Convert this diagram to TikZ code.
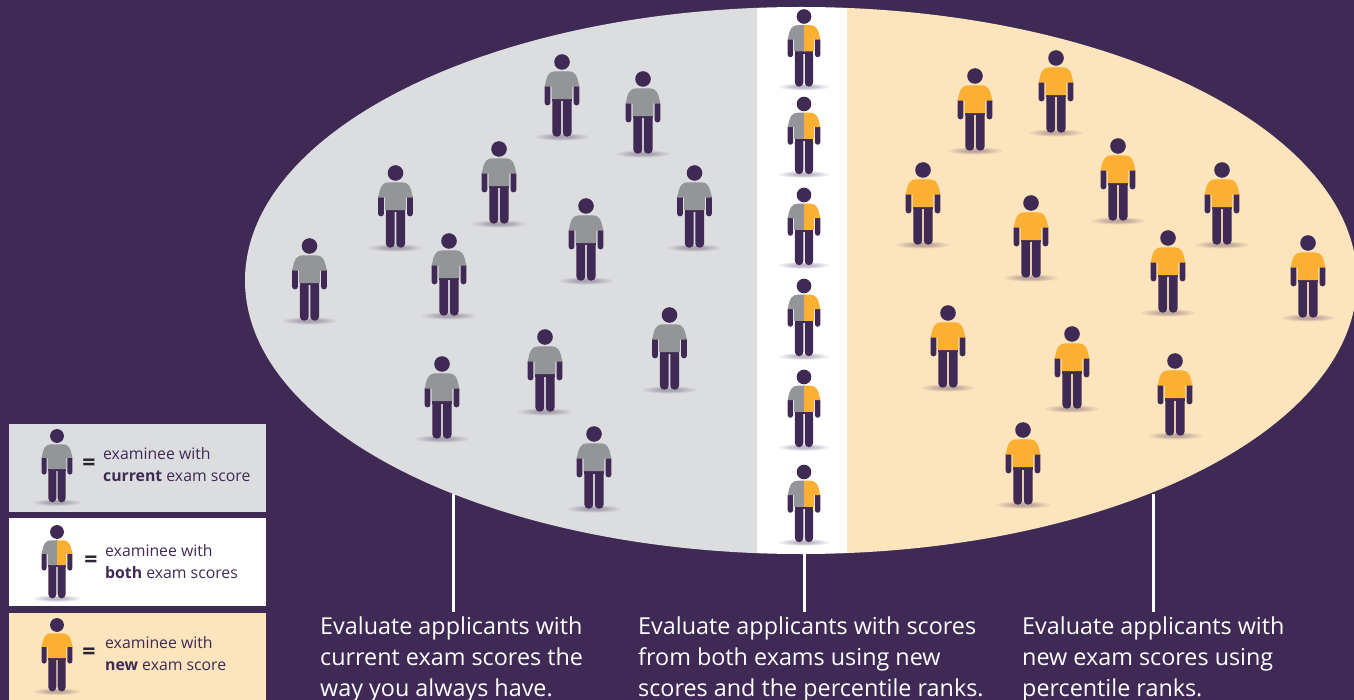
\documentclass[tikz,border=0pt]{standalone}
\usepackage{fontspec}
\setmainfont{Open Sans}
\definecolor{bg}{HTML}{3F2A56}
\definecolor{greyzone}{HTML}{DCDDDE}
\definecolor{creamzone}{HTML}{FCE4BC}
\definecolor{shirtgrey}{HTML}{939598}
\definecolor{shirtgold}{HTML}{FBB034}
\definecolor{eqink}{HTML}{2A2230}
\tikzset{
  x=1pt,y=-1pt,
  caption/.style={anchor=north west,align=left,inner sep=0pt,text=white,font=\fontsize{23.35}{31}\selectfont},
  legendtext/.style={anchor=west,align=left,inner sep=0pt,text=bg,font=\fontsize{15.8}{22}\selectfont},
  equalsign/.style={inner sep=0pt,text=eqink,font=\fontsize{23}{23}\selectfont\bfseries},
  leader/.style={white,line width=2.2pt,shorten >=5pt},
  pics/person/.style 2 args={code={
    \foreach \rr/\oo in {27/0.06,23/0.07,19/0.08,15/0.08,11/0.08}{
      \fill[bg,opacity=\oo] (0,75) ellipse [x radius=\rr,y radius=\rr*0.135];}
    % legs
    \fill[bg,rounded corners=4pt] (-9.6,35) -- (-9.6,74.6) -- (-0.8,74.6) -- (-0.8,30) -- (0.8,30) -- (0.8,74.6) -- (9.6,74.6) -- (9.6,35) -- cycle;
    \fill[bg] (-9.6,34) rectangle (9.6,39.5);
    % arms
    \fill[bg,rounded corners=2.8pt] (-17.4,22) -- (-17.4,43.4) -- (-11.6,43.4) -- (-11.6,22) -- cycle;
    \fill[bg,rounded corners=2.8pt] (17.4,22) -- (17.4,43.4) -- (11.6,43.4) -- (11.6,22) -- cycle;
    % shirt: left half runs under the right half so that no seam shows
    \fill[#1] (1,9.3) -- (-7,9.3) .. controls (-12.5,9.3) and (-15.5,13) .. (-17.2,24.6) -- (-10.4,24.6) -- (-10.4,37.2) -- (1,37.2) -- cycle;
    \fill[#2] (0,9.3) -- (7,9.3) .. controls (12.5,9.3) and (15.5,13) .. (17.2,24.6) -- (10.4,24.6) -- (10.4,37.2) -- (0,37.2) -- cycle;
    % head
    \fill[bg] (0,0) circle [radius=7.8];
  }},
}
\begin{document}
\begin{tikzpicture}
\useasboundingbox (0,0) rectangle (1354,700);
\fill[bg] (0,0) rectangle (1354,700);
% population ellipse with its three zones
\begin{scope}
  \clip (801,280.5) ellipse [x radius=556,y radius=273.5];
  \fill[greyzone] (240,0) rectangle (757,700);
  \fill[white] (757,0) rectangle (847,700);
  \fill[creamzone] (847,0) rectangle (1360,700);
\end{scope}
% grey population
\foreach \px/\py in {562/62,643/79,499/149,395.5/173,694.5/173,586/206,449/241,309.5/246,669.5/315,545/337,442/364,594/434}
  \pic at (\px,\py) {person={shirtgrey}{shirtgrey}};
% gold population
\foreach \px/\py in {1056/58,975/76,1118/146,923/170,1222/170,1031/203,1168/238,1308/243,948/313,1072/334,1175/361,1023/430}
  \pic at (\px,\py) {person={shirtgold}{shirtgold}};
% both
\foreach \py in {16.5,104,195,286,377,472}
  \pic[scale=0.94] at (804,\py) {person={shirtgrey}{shirtgold}};
% captions
\node[caption] (capA) at (320,617) {Evaluate applicants with\\current exam scores the\\way you always have.};
\node[caption] (capB) at (638,617) {Evaluate applicants with scores\\from both exams using new\\scores and the percentile ranks.};
\node[caption] (capC) at (1022,617) {Evaluate applicants with\\new exam scores using\\percentile ranks.};
\coordinate (ea) at (453.5,494);
\coordinate (eb) at (804.5,554);
\coordinate (ec) at (1153.5,494);
\draw[leader] (ea) -- (ea |- capA.north);
\draw[leader] (eb) -- (eb |- capB.north);
\draw[leader] (ec) -- (ec |- capC.north);
% legend
\fill[greyzone] (9,424) rectangle (266,512);
\fill[white] (9,518) rectangle (266,606);
\fill[creamzone] (9,613) rectangle (266,700);
\pic[scale=0.89] at (57,436) {person={shirtgrey}{shirtgrey}};
\pic[scale=0.89] at (57,532) {person={shirtgrey}{shirtgold}};
\pic[scale=0.89] at (57,625) {person={shirtgold}{shirtgold}};
\node[equalsign] (eqA) at (89,465) {=};
\node[equalsign] (eqB) at (91,562) {=};
\node[equalsign] (eqC) at (89,654) {=};
\node[legendtext] (legA) at (103,464.5) {examinee with\\\textbf{current} exam score};
\node[legendtext] (legB) at (105,561.5) {examinee with\\\textbf{both} exam scores};
\node[legendtext] (legC) at (105,653.5) {examinee with\\\textbf{new} exam score};
\end{tikzpicture}
\end{document}
